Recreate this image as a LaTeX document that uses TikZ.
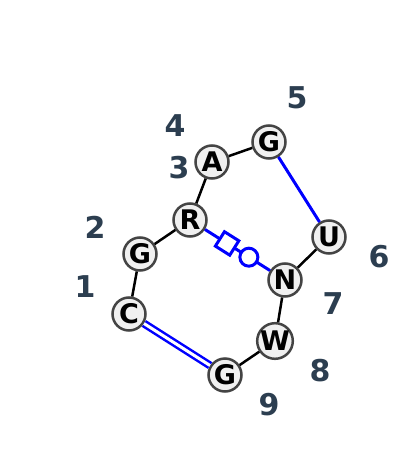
\documentclass[tikz,border=0pt]{standalone}
\usepackage{fontspec}
\setmainfont{DejaVu Sans}
\definecolor{ntborder}{HTML}{444444}
\definecolor{ntfill}{HTML}{F0F0F0}
\definecolor{idxcol}{HTML}{2C3E50}
\tikzset{
  nt/.style={circle, draw=ntborder, fill=ntfill, line width=2.5pt, minimum size=33pt,
    inner sep=0pt, font=\bfseries\fontsize{27}{27}\selectfont},
  idx/.style={text=idxcol, inner sep=0pt, font=\bfseries\fontsize{30}{30}\selectfont},
  bb/.style={line width=2.5pt, black},
  bp/.style={line width=3pt, blue}
}
\begin{document}
\begin{tikzpicture}[x=1pt,y=-1pt]
    % Fix the page size
    \useasboundingbox (0,0) rectangle (400,458);

    % Draw the nucleotides
    \node[nt] (C1) at (129,314) {C};
    \node[nt] (G2) at (140,254) {G};
    \node[nt] (R3) at (190,220) {R};
    \node[nt] (A4) at (212,162) {A};
    \node[nt] (G5) at (269,142) {G};
    \node[nt] (U6) at (329,237) {U};
    \node[nt] (N7) at (285,280) {N};
    \node[nt] (W8) at (275,341) {W};
    \node[nt] (G9) at (225,375) {G};

    % Draw the position numbers
    \node[idx] (i1) at (85,287) {1};
    \node[idx] (i2) at (95,227) {2};
    \node[idx] (i3) at (179,168) {3};
    \node[idx] (i4) at (175,126) {4};
    \node[idx] (i5) at (297,98) {5};
    \node[idx] (i6) at (379,257) {6};
    \node[idx] (i7) at (333,304) {7};
    \node[idx] (i8) at (320,371) {8};
    \node[idx] (i9) at (269,405) {9};

    % Draw the backbone
    \draw[bb] (C1) -- (G2);
    \draw[bb] (G2) -- (R3);
    \draw[bb] (R3) -- (A4);
    \draw[bb] (A4) -- (G5);
    \draw[bb] (U6) -- (N7);
    \draw[bb] (N7) -- (W8);
    \draw[bb] (W8) -- (G9);

    % Draw the base pairs
    \draw[bp] (G5) -- (U6);
    \draw[blue, line width=2.5pt, double=white, double distance=3pt] (C1) -- (G9);
    \draw[bp] (R3) -- (N7)
        node[pos=0.34, sloped, rectangle, draw=blue, fill=white, line width=3pt,
             minimum size=17pt, inner sep=0pt] (sq) {}
        node[pos=0.675, circle, draw=blue, fill=white, line width=3pt,
             minimum size=18pt, inner sep=0pt] (ci) {};

\end{tikzpicture}
\end{document}
